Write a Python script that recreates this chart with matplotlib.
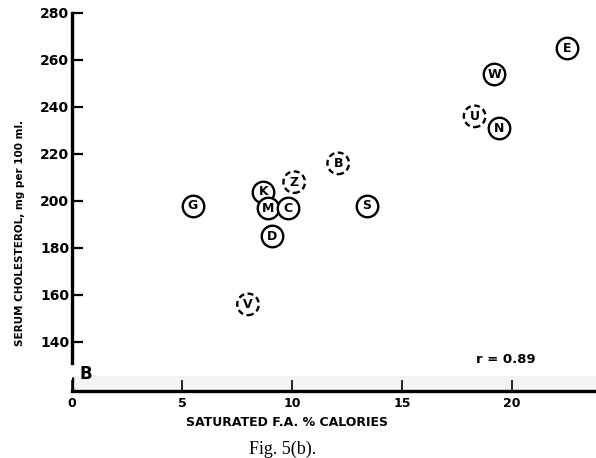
import matplotlib
matplotlib.use("Agg")
import matplotlib.pyplot as plt

# Data
labels = ["G", "K", "M", "C", "D", "Z", "B", "S", "V", "E", "W", "U", "N"]
sat_fa = [5.5, 8.7, 8.9, 9.8, 9.1, 10.1, 12.1, 13.4, 8.0, 22.5, 19.2, 18.3, 19.4]
cholesterol = [198, 204, 197, 197, 185, 208, 216, 198, 156, 265, 254, 236, 231]
dashed = [False, False, False, False, False, True, True, False, True, False, False, True, False]

x_ticks = [0, 5, 10, 15, 20]
y_ticks = [140, 160, 180, 200, 220, 240, 260, 280]

W, H = 596, 458
fig = plt.figure(figsize=(W / 100, H / 100), dpi=100)
ax = fig.add_axes([72 / W, 1 - 391 / H, 1 - 72 / W, 391 / H])
ax.set_xlim(0, (W - 72) / 22.0)
ax.set_ylim(119.15, 285.5)

for s in ["top", "right"]:
    ax.spines[s].set_visible(False)
ax.spines["left"].set_bounds(131, 280)
ax.spines["left"].set_linewidth(2.4)
ax.spines["bottom"].set_linewidth(2.4)

# scan-like grey band above x axis
ax.axhspan(119.15, 125.5, color="#f2f2f2", zorder=0, lw=0)
ax.vlines(0, 119.15, 125.3, colors="black", lw=2.4, zorder=3)

ax.set_yticks(y_ticks)
ax.set_yticklabels([str(v) for v in y_ticks], fontsize=10, fontweight="bold")
ax.set_xticks(x_ticks)
ax.set_xticklabels([str(v) for v in x_ticks], fontsize=9, fontweight="bold")
ax.tick_params(axis="y", direction="in", length=8, width=1.6, pad=2)
ax.tick_params(axis="x", direction="in", length=8, width=1.2, pad=4)

for lab, xv, yv, d in zip(labels, sat_fa, cholesterol, dashed):
    ax.scatter([xv], [yv], s=240, facecolors="white", edgecolors="black",
               linewidths=1.7, linestyles=(0, (2.5, 1.5)) if d else "solid", zorder=4)
    ax.text(xv, yv, lab, ha="center", va="center", fontsize=9, fontweight="bold", zorder=5)

ax.text(0.35, 126.3, "B", fontsize=12, fontweight="bold", ha="left", va="center")
ax.text(19.7, 132.5, "r = 0.89", fontsize=9.5, fontweight="bold", ha="center", va="center")

fig.text(20 / W, 1 - 233 / H, "SERUM CHOLESTEROL, mg per 100 ml.", rotation=90,
         fontsize=7.5, fontweight="bold", ha="center", va="center")
fig.text(287 / W, 1 - 422 / H, "SATURATED F.A. % CALORIES", fontsize=9,
         fontweight="bold", ha="center", va="center")
fig.text(283 / W, 1 - 449 / H, "Fig. 5(b).", fontsize=13, family="Liberation Serif",
         ha="center", va="center")

fig.savefig("out.png", dpi=100, facecolor="white")
